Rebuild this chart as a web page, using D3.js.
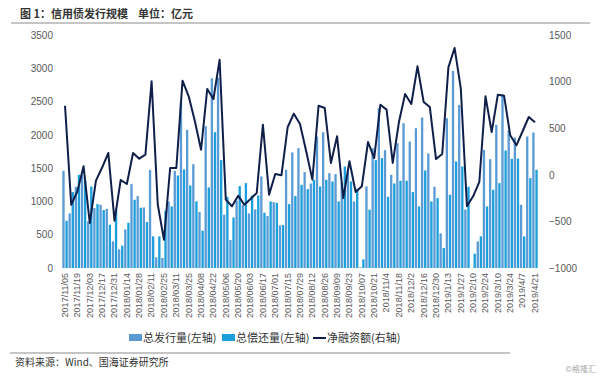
<!DOCTYPE html>
<html>
<head>
<meta charset="utf-8">
<script src="https://cdn.jsdelivr.net/npm/d3@7"></script>
<style>
  html, body { margin: 0; padding: 0; background: #fff; overflow: hidden; }
  svg { display: block; font-family: "Noto Sans CJK SC", "Liberation Sans", Arial, sans-serif; }
</style>
</head>
<body>
<div id="chart"></div>
<script>
// Weekly tick labels (every second week is labelled)
const tickLabels = ['2017/11/05','2017/11/19','2017/12/03','2017/12/17','2017/12/31','2018/01/14','2018/01/28',
    '2018/02/11','2018/02/25','2018/03/11','2018/03/25','2018/04/08','2018/04/22','2018/05/06','2018/05/20',
    '2018/06/03','2018/06/17','2018/07/01','2018/07/15','2018/07/29','2018/08/12','2018/08/26','2018/09/09',
    '2018/09/23','2018/10/07','2018/10/21','2018/11/4','2018/11/18','2018/12/2','2018/12/16','2018/12/30',
    '2019/1/13','2019/1/27','2019/2/10','2019/2/24','2019/3/10','2019/3/24','2019/4/7','2019/4/21'];

// 总发行量 (left axis)
const issuance = [1460,820,1220,1400,700,900,950,890,400,280,580,1260,1080,910,1475,160,150,1000,1460,2480,
    2075,1560,840,2130,2850,2860,800,420,1010,950,820,880,1375,780,990,640,1475,1735,1800,1440,
    1270,1975,2040,1425,1410,1280,1450,1000,10,1225,1800,2400,1770,1400,1875,2175,1900,2100,2260,1720,
    1220,520,2250,2960,2450,880,0,400,1775,1635,2150,2610,2070,1960,950,1975,2035];

// 总偿还量 (left axis)
const repayment = [710,1140,1400,1310,1225,960,870,650,890,335,680,1025,905,690,475,475,860,925,1390,1480,
    1240,1000,560,1210,2040,1620,1070,760,1230,1275,1090,1090,830,1000,980,645,960,1080,1250,1185,
    1325,1225,1325,1300,1000,1525,1300,1190,130,875,1620,1650,1070,1270,1310,1310,1140,925,1465,1000,
    1050,300,1100,1600,1525,1220,215,475,925,1175,1275,1765,1640,1645,475,1350,1475];

// 净融资额 (right axis)
const netFinancing = [741,-321,-177,91,-517,-63,78,234,-492,-56,-99,234,173,216,1003,-321,-696,73,73,1010,
    842,574,269,921,813,1235,-267,-338,-224,-321,-260,-195,538,-213,9,-5,510,656,545,252,
    -52,741,717,127,413,-249,145,-185,-124,352,180,752,699,127,566,867,760,1164,781,727,
    169,223,1153,1361,931,-338,-231,-77,842,459,860,849,424,316,467,620,563];

const leftTicks = [0, 500, 1000, 1500, 2000, 2500, 3000, 3500];
const rightTicks = [-1000, -500, 0, 500, 1000, 1500];

const weeks = d3.range(issuance.length);
const labelledWeeks = weeks.filter(i => i % 2 === 0);

const width = 600, height = 377;
const margin = { top: 35, right: 62, bottom: 109, left: 62 };
const innerWidth = width - margin.left - margin.right;
const innerHeight = height - margin.top - margin.bottom;

const svg = d3.select('#chart').append('svg')
    .attr('width', width)
    .attr('height', height);

// Title and rules
svg.append('text')
    .attr('x', 20).attr('y', 18)
    .style('font-size', '11px')
    .style('font-weight', 'bold')
    .style('fill', '#333')
    .text('图 1：信用债发行规模');

svg.append('text')
    .attr('x', 138).attr('y', 18)
    .style('font-size', '11px')
    .style('font-weight', 'bold')
    .style('fill', '#333')
    .text('单位：亿元');

svg.append('line')
    .attr('x1', 11).attr('x2', 590).attr('y1', 23).attr('y2', 23)
    .style('stroke', '#8c8c8c').style('stroke-width', 1.2);

svg.append('line')
    .attr('x1', 10).attr('x2', 510).attr('y1', 353).attr('y2', 353)
    .style('stroke', '#8c8c8c').style('stroke-width', 1.2);

svg.append('text')
    .attr('x', 15).attr('y', 366)
    .style('font-size', '10px')
    .style('fill', '#333')
    .text('资料来源：Wind、国海证券研究所');

svg.append('text')
    .attr('x', 596).attr('y', 372)
    .attr('text-anchor', 'end')
    .style('font-size', '8px')
    .style('fill', '#aaa')
    .text('©格隆汇');

const g = svg.append('g')
    .attr('transform', `translate(${margin.left},${margin.top})`);

// Scales
const x0 = d3.scaleBand()
    .domain(weeks)
    .range([0, innerWidth])
    .paddingInner(0.12)
    .paddingOuter(0.05);

const x1 = d3.scaleBand()
    .domain(['issuance', 'repayment'])
    .range([0, x0.bandwidth()])
    .paddingInner(0.25);

const yLeft = d3.scaleLinear().domain([0, 3500]).range([innerHeight, 0]);
const yRight = d3.scaleLinear().domain([-1000, 1500]).range([innerHeight, 0]);

// Axes
const yAxisLeft = d3.axisLeft(yLeft).tickValues(leftTicks).tickFormat(d3.format('d')).tickSize(0).tickPadding(9);
const yAxisRight = d3.axisRight(yRight).tickValues(rightTicks).tickFormat(d3.format('d')).tickSize(0).tickPadding(11);
const xAxis = d3.axisBottom(x0)
    .tickValues(labelledWeeks)
    .tickFormat(i => tickLabels[i / 2])
    .tickSize(0);

const gl = g.append('g').call(yAxisLeft);
const gr = g.append('g').attr('transform', `translate(${innerWidth},0)`).call(yAxisRight);
const gx = g.append('g').attr('transform', `translate(0,${innerHeight})`).call(xAxis);

[gl, gr, gx].forEach(a => {
    a.select('.domain').remove();
    a.selectAll('text')
        .style('fill', '#595959')
        .style('font-family', '"Liberation Sans", Arial, sans-serif');
});
gl.selectAll('text').style('font-size', '10px');
gr.selectAll('text').style('font-size', '10px');

gx.selectAll('text')
    .style('font-size', '9px')
    .attr('text-anchor', 'end')
    .attr('x', -5)
    .attr('y', 0)
    .attr('dy', '0.32em')
    .attr('transform', 'rotate(-90)');

// Bars
const issColor = '#5b9bd5';
const repColor = '#1c9fda';

g.append('g').selectAll('rect.iss')
    .data(weeks)
    .join('rect')
    .attr('class', 'iss')
    .attr('x', i => x0(i) + x1('issuance'))
    .attr('width', x1.bandwidth())
    .attr('y', i => yLeft(issuance[i]))
    .attr('height', i => innerHeight - yLeft(issuance[i]))
    .style('fill', issColor);

g.append('g').selectAll('rect.rep')
    .data(weeks)
    .join('rect')
    .attr('class', 'rep')
    .attr('x', i => x0(i) + x1('repayment'))
    .attr('width', x1.bandwidth())
    .attr('y', i => yLeft(repayment[i]))
    .attr('height', i => innerHeight - yLeft(repayment[i]))
    .style('fill', repColor);

// Net financing line
const line = d3.line()
    .x(i => x0(i) + x0.bandwidth() / 2)
    .y(i => yRight(netFinancing[i]));

g.append('path')
    .datum(weeks)
    .attr('d', line)
    .style('fill', 'none')
    .style('stroke', '#0f1f4a')
    .style('stroke-width', 2)
    .style('stroke-linejoin', 'round');

// Legend
const legend = svg.append('g')
    .attr('transform', 'translate(0,338)')
    .style('font-size', '11px')
    .style('fill', '#333');

const legendItems = [
    { label: '总发行量(左轴)', color: issColor, type: 'rect', x: 129 },
    { label: '总偿还量(左轴)', color: repColor, type: 'rect', x: 222 },
    { label: '净融资额(右轴)', color: '#0f1f4a', type: 'line', x: 313 }
];

legendItems.forEach(d => {
    const item = legend.append('g').attr('transform', `translate(${d.x},0)`);
    if (d.type === 'rect') {
        item.append('rect')
            .attr('x', 0).attr('y', -4)
            .attr('width', 13).attr('height', 7)
            .style('fill', d.color);
    } else {
        item.append('line')
            .attr('x1', 0).attr('x2', 13).attr('y1', 0).attr('y2', 0)
            .style('stroke', d.color).style('stroke-width', 2);
    }
    item.append('text')
        .attr('x', 14).attr('y', 4)
        .text(d.label);
});
</script>
</body>
</html>
